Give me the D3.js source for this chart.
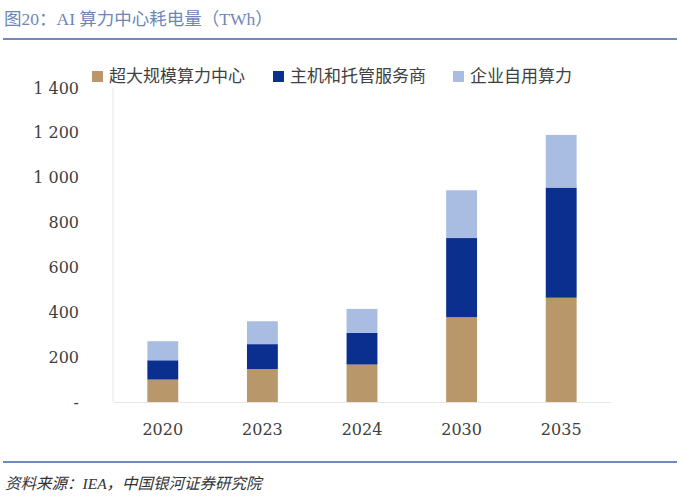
<!DOCTYPE html>
<html>
<head>
<meta charset="utf-8">
<script src="https://cdn.jsdelivr.net/npm/d3@7"></script>
<style>
  body { margin: 0; background: #fff; }
  svg { display: block; }
</style>
</head>
<body>
<div id="chart"></div>
<script>
const years = ["2020", "2023", "2024", "2030", "2035"];
const seriesNames = ["超大规模算力中心", "主机和托管服务商", "企业自用算力"];
const hyperscale = [100, 147, 167, 378, 465];
const hosting = [86, 111, 141, 353, 491];
const enterprise = [85, 102, 107, 213, 235];
const yTicks = [0, 200, 400, 600, 800, 1000, 1200, 1400];
const colors = ["#B8976A", "#0A2F8F", "#A9BDE3"];

const width = 684, height = 501;
const margin = { top: 88, right: 73, bottom: 99, left: 113 };
const chartWidth = width - margin.left - margin.right;
const chartHeight = height - margin.top - margin.bottom;

const svg = d3.select("#chart")
  .append("svg")
  .attr("width", width)
  .attr("height", height);

const serif = "'DejaVu Serif', 'Liberation Serif', 'Noto Sans CJK SC', serif";
const cjk = "'Noto Sans CJK SC', sans-serif";

// 标题和分隔线
svg.append("text")
  .attr("x", 4).attr("y", 25)
  .style("font-family", "'Liberation Serif', 'Noto Sans CJK SC', serif")
  .style("font-size", "17.5px")
  .attr("fill", "#6D86B8")
  .text("图20：AI 算力中心耗电量（TWh）");

svg.append("line")
  .attr("x1", 3).attr("x2", 677).attr("y1", 39).attr("y2", 39)
  .attr("stroke", "#6F8BBE").attr("stroke-width", 2);

svg.append("line")
  .attr("x1", 3).attr("x2", 677).attr("y1", 462).attr("y2", 462)
  .attr("stroke", "#6F8BBE").attr("stroke-width", 2);

svg.append("text")
  .attr("x", 5).attr("y", 489)
  .style("font-family", "'Liberation Serif', 'Noto Sans CJK SC', serif")
  .style("font-size", "15.5px")
  .style("font-style", "italic")
  .attr("fill", "#333")
  .text("资料来源：IEA，中国银河证券研究院");

const g = svg.append("g")
  .attr("transform", `translate(${margin.left}, ${margin.top})`);

const x = d3.scaleBand().domain(years).range([0, chartWidth]).paddingInner(0.69).paddingOuter(0.345);
const y = d3.scaleLinear().domain([0, 1400]).range([chartHeight, 0]);

const data = years.map((yr, i) => ({
  year: yr,
  [seriesNames[0]]: hyperscale[i],
  [seriesNames[1]]: hosting[i],
  [seriesNames[2]]: enterprise[i],
}));
const stacked = d3.stack().keys(seriesNames)(data);

// y轴
const yAxis = g.append("g")
  .attr("transform", "translate(-34,0)")
  .call(d3.axisLeft(y).tickValues(yTicks).tickSize(0).tickPadding(0)
    .tickFormat((d) => d === 0 ? "-" : d3.format(",")(d).replace(",", " ")));
yAxis.select(".domain").remove();
yAxis.selectAll("text")
  .style("font-family", serif)
  .style("font-size", "16px")
  .attr("fill", "#404040");

g.append("line")
  .attr("x1", 0).attr("x2", 0).attr("y1", 0).attr("y2", chartHeight)
  .attr("stroke", "#E6E6E6");

// x轴
const xAxis = g.append("g")
  .attr("transform", `translate(0, ${chartHeight})`)
  .call(d3.axisBottom(x).tickSize(0).tickPadding(22));
xAxis.select(".domain").attr("stroke", "#E6E6E6");
xAxis.selectAll("text")
  .style("font-family", serif)
  .style("font-size", "16px")
  .attr("fill", "#404040");

// 堆叠柱
g.selectAll(".layer")
  .data(stacked)
  .enter()
  .append("g")
  .attr("class", "layer")
  .attr("fill", (d, i) => colors[i])
  .selectAll("rect")
  .data((d) => d)
  .enter()
  .append("rect")
  .attr("x", (d) => x(d.data.year))
  .attr("y", (d) => y(d[1]))
  .attr("width", x.bandwidth())
  .attr("height", (d) => y(d[0]) - y(d[1]));

// 图例
const legendX = [92, 273, 453];
const legend = svg.selectAll(".legend")
  .data(seriesNames)
  .enter()
  .append("g")
  .attr("class", "legend")
  .attr("transform", (d, i) => `translate(${legendX[i]}, 71)`);
legend.append("rect")
  .attr("width", 11).attr("height", 11)
  .attr("fill", (d, i) => colors[i]);
legend.append("text")
  .attr("x", 17).attr("y", 11)
  .style("font-family", cjk)
  .style("font-size", "17px")
  .attr("fill", "#404040")
  .text((d) => d);
</script>
</body>
</html>
